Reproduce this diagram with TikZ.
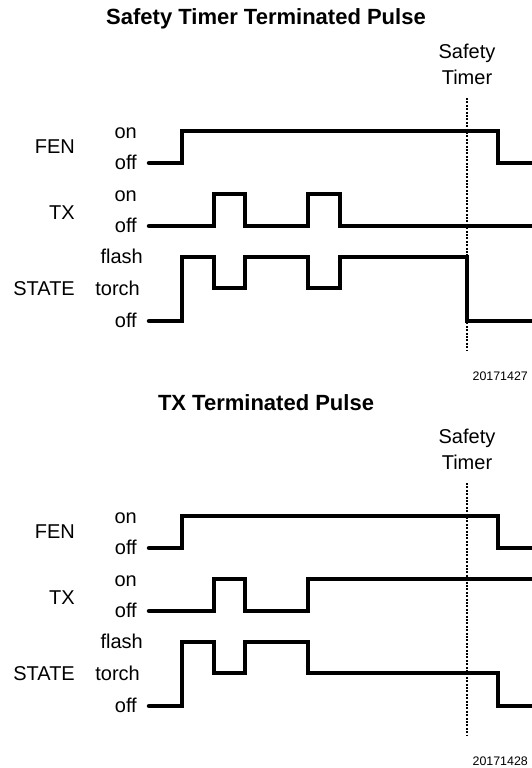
\documentclass[tikz,border=0pt]{standalone}
\usepackage{fontspec}
\setmainfont{Liberation Sans}
\tikzset{
  heading/.style={anchor=base, inner sep=0pt, font=\fontsize{22}{26}\selectfont\bfseries},
  signame/.style={anchor=base east, inner sep=0pt, font=\fontsize{20}{24}\selectfont},
  levelname/.style={anchor=base east, inner sep=0pt, font=\fontsize{20}{24}\selectfont},
  timerlabel/.style={anchor=south, align=center, inner sep=0pt, outer ysep=13pt, font=\fontsize{20}{26}\selectfont},
  wave/.style={line width=4.5pt, line cap=round, line join=miter},
  timerline/.style={line width=1.8pt, dash pattern=on 2pt off 1.4pt},
  figno/.style={anchor=base east, inner sep=0pt, font=\fontsize{12.4}{15}\selectfont},
}
\begin{document}
\begin{tikzpicture}[x=1pt, y=-1pt]
\useasboundingbox (0,0) rectangle (532,768);

% Parts shared by both timing diagrams
\foreach \d/\sh/\ttl/\num in {top/0/Safety Timer Terminated Pulse/20171427, bot/385/TX Terminated Pulse/20171428} {
  \begin{scope}[yshift=-\sh pt]
    % Title
    \node[heading] (title\d) at (266,25) {\ttl};

    % Safety timer mark
    \node[timerlabel] (timer\d) at (467,98) {Safety\\Timer};
    \coordinate (timerend\d) at (467,351);
    \draw[timerline] (timer\d.south) -- (timerend\d);

    % Signal names
    \node[signame] (fen\d) at (75,153) {FEN};
    \node[signame] (tx\d) at (75,219) {TX};
    \node[signame] (state\d) at (75,295) {STATE};

    % Levels
    \node[levelname] (fenon\d) at (137,138) {on};
    \node[levelname] (fenoff\d) at (137,169) {off};
    \node[levelname] (txon\d) at (137,201) {on};
    \node[levelname] (txoff\d) at (137,232) {off};
    \node[levelname] (flash\d) at (143,263) {flash};
    \node[levelname] (torch\d) at (140,295) {torch};
    \node[levelname] (stoff\d) at (137,327) {off};

    % FEN
    \draw[wave] (149,163) -| (182,131) -| (498,163) -- (532,163);

    % Figure number
    \node[figno] (num\d) at (528,380) {\num};
  \end{scope}
}

% Safety Timer Terminated Pulse
\draw[wave] (149,226) -| (214,194) -| (245,226) -| (308,194) -| (340,226) -- (532,226);
\draw[wave] (149,321) -| (182,257) -| (214,288) -| (245,257) -| (308,288) -| (340,257) -| (467,321) -- (532,321);

% TX Terminated Pulse
\begin{scope}[yshift=-385pt]
  \draw[wave] (149,226) -| (214,194) -| (245,226) -| (308,194) -- (532,194);
  \draw[wave] (149,321) -| (182,257) -| (214,288) -| (245,257) -| (308,288) -| (498,321) -- (532,321);
\end{scope}
\end{tikzpicture}
\end{document}
